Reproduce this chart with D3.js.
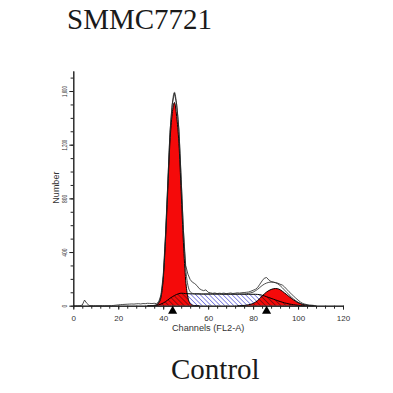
<!DOCTYPE html>
<html>
<head>
<meta charset="utf-8">
<script src="https://cdn.jsdelivr.net/npm/d3@7"></script>
<style>
  body { margin: 0; background: #fff; }
  svg { display: block; }
</style>
</head>
<body>
<div id="vis"></div>
<script>
const FRAME_WIDTH = 393;
const FRAME_HEIGHT = 393;

// every array is indexed by channel number, 0 .. 110
const CHANNELS = d3.range(0, 111);

// raw histogram (counts per channel)
const COUNTS = [
  0, 0, 0, 0, 5, 42, 18, 2, 0, 0,            // 0-9
  0, 0, 0, 0, 0, 0, 0, 0, 2, 4,              // 10-19
  6, 8, 9, 10, 11, 12, 13, 12, 14, 15,       // 20-29
  13, 16, 15, 18, 17, 16, 18, 15, 30, 80,    // 30-39
  220, 520, 900, 1290, 1500, 1585, 1500, 1310, 940, 560, // 40-49
  300, 235, 195, 175, 165, 150, 128, 118, 112, 118,      // 50-59
  100, 96, 92, 95, 90, 93, 91, 94, 90, 92,   // 60-69
  95, 91, 93, 96, 94, 97, 98, 100, 102, 108, // 70-79
  115, 122, 135, 160, 185, 205, 210, 192, 180, 176,      // 80-89
  172, 168, 160, 154, 140, 122, 104, 88, 72, 56,         // 90-99
  42, 28, 18, 12, 8, 5, 4, 2, 0, 0, 0        // 100-110
];

// G1 peak of the fit
const G1_FIT = [
  0, 0, 0, 0, 0, 0, 0, 0, 0, 0,
  0, 0, 0, 0, 0, 0, 0, 0, 0, 0,
  0, 0, 0, 0, 0, 0, 0, 0, 0, 0,
  0, 0, 0, 0, 0, 1, 2, 6, 20, 62,
  195, 480, 850, 1220, 1430, 1515, 1410, 1210, 850, 470,
  190, 62, 16, 4, 1, 0, 0, 0, 0, 0,
  0, 0, 0, 0, 0, 0, 0, 0, 0, 0,
  0, 0, 0, 0, 0, 0, 0, 0, 0, 0,
  0, 0, 0, 0, 0, 0, 0, 0, 0, 0,
  0, 0, 0, 0, 0, 0, 0, 0, 0, 0,
  0, 0, 0, 0, 0, 0, 0, 0, 0, 0, 0
];

// S phase of the fit
const S_FIT = [
  0, 0, 0, 0, 0, 0, 0, 0, 0, 0,
  0, 0, 0, 0, 0, 0, 0, 0, 0, 0,
  0, 0, 0, 0, 0, 0, 0, 0, 0, 0,
  0, 0, 0, 0, 0, 0, 0, 2, 6, 12,
  20, 30, 42, 55, 66, 76, 84, 90, 93, 92,
  90, 89, 89, 88, 88, 88, 88, 87, 87, 87,
  87, 87, 87, 87, 87, 87, 86, 86, 86, 86,
  86, 86, 86, 86, 86, 86, 85, 85, 85, 85,
  85, 85, 84, 82, 78, 73, 67, 61, 55, 49,
  43, 37, 31, 26, 21, 17, 13, 10, 7, 5,
  3, 1, 0, 0, 0, 0, 0, 0, 0, 0, 0
];

// G2 peak of the fit
const G2_FIT = [
  0, 0, 0, 0, 0, 0, 0, 0, 0, 0,
  0, 0, 0, 0, 0, 0, 0, 0, 0, 0,
  0, 0, 0, 0, 0, 0, 0, 0, 0, 0,
  0, 0, 0, 0, 0, 0, 0, 0, 0, 0,
  0, 0, 0, 0, 0, 0, 0, 0, 0, 0,
  0, 0, 0, 0, 0, 0, 0, 0, 0, 0,
  0, 0, 0, 0, 0, 0, 0, 0, 0, 0,
  0, 0, 0, 0, 0, 1, 2, 4, 7, 11,
  16, 26, 38, 54, 72, 88, 102, 113, 121, 126,
  128, 126, 119, 108, 95, 82, 68, 55, 43, 32,
  23, 16, 10, 6, 3, 1, 0, 0, 0, 0, 0
];

const X_TICKS = [0, 20, 40, 60, 80, 100, 120];
const X_MINOR = d3.range(0, 121, 4);
const Y_TICKS = [0, 400, 800, 1200, 1600];
const Y_MINOR = d3.range(0, 1701, 100);
const MARKERS = [44.2, 86];  // G1 / G2 means

const FONT = "'Liberation Sans', Arial, sans-serif";
const SERIF = "'Liberation Serif', 'Times New Roman', serif";

const FRAME = d3.select("#vis")
  .append("svg")
    .attr("width", FRAME_WIDTH)
    .attr("height", FRAME_HEIGHT);

const X_SCALE = d3.scaleLinear().domain([0, 120]).range([73.3, 343]);
const Y_SCALE = d3.scaleLinear().domain([0, 1750]).range([305.7, 70.9]);

// hatch patterns for the S phase
const defs = FRAME.append("defs");
function hatch(id, color, gap, width) {
  defs.append("pattern")
      .attr("id", id)
      .attr("patternUnits", "userSpaceOnUse")
      .attr("width", gap).attr("height", gap)
      .attr("patternTransform", "rotate(-45)")
    .append("line")
      .attr("x1", 0).attr("y1", 0).attr("x2", 0).attr("y2", gap)
      .attr("stroke", color).attr("stroke-width", width);
}
hatch("blueHatch", "#2323c8", 3.2, 1);
hatch("blackHatch", "#111", 3.6, 0.9);

const area = (arr) => d3.area()
  .x(c => X_SCALE(c))
  .y0(Y_SCALE(0))
  .y1(c => Y_SCALE(arr[c]))
  .curve(d3.curveMonotoneX);
const line = (arr, curve) => d3.line()
  .x(c => X_SCALE(c))
  .y(c => Y_SCALE(arr[c]))
  .curve(curve);

const g1Chan = CHANNELS.filter(c => c >= 33 && c <= 56);
const sChan = CHANNELS.filter(c => c >= 35 && c <= 103);
const g2Chan = CHANNELS.filter(c => c >= 73 && c <= 107);

// clip for the part of S that lies over the red peaks
const clip = defs.append("clipPath").attr("id", "peaks");
clip.append("path").attr("d", area(G1_FIT)(g1Chan));
clip.append("path").attr("d", area(G2_FIT)(g2Chan));

// S phase, blue hatch
FRAME.append("path")
  .attr("d", area(S_FIT)(sChan))
  .attr("fill", "url(#blueHatch)");

// G1 and G2 peaks
FRAME.append("path")
  .attr("d", area(G1_FIT)(g1Chan))
  .attr("fill", "#f50a0a");
FRAME.append("path")
  .attr("d", area(G2_FIT)(g2Chan))
  .attr("fill", "#f50a0a");

// S over the peaks, black hatch
FRAME.append("path")
  .attr("d", area(S_FIT)(sChan))
  .attr("fill", "url(#blackHatch)")
  .attr("clip-path", "url(#peaks)");

// component outlines
[[G1_FIT, g1Chan], [G2_FIT, g2Chan], [S_FIT, sChan]].forEach(([arr, ch]) => {
  FRAME.append("path")
    .attr("d", line(arr, d3.curveMonotoneX)(ch))
    .attr("fill", "none")
    .attr("stroke", "#000")
    .attr("stroke-width", 1);
});

// sum of the fit
const FIT_SUM = CHANNELS.map(c => G1_FIT[c] + S_FIT[c] + G2_FIT[c]);
FRAME.append("path")
  .attr("d", line(FIT_SUM, d3.curveMonotoneX)(CHANNELS.filter(c => c >= 33 && c <= 107)))
  .attr("fill", "none")
  .attr("stroke", "#222")
  .attr("stroke-width", 0.8);

// raw data
FRAME.append("path")
  .attr("d", line(COUNTS, d3.curveLinear)(CHANNELS.filter(c => c <= 108)))
  .attr("fill", "none")
  .attr("stroke", "#222")
  .attr("stroke-width", 0.8);

// x axis
FRAME.append("g")
  .attr("transform", "translate(0," + Y_SCALE(0) + ")")
  .call(d3.axisBottom(X_SCALE).tickValues(X_MINOR).tickSize(3).tickSizeOuter(0).tickFormat(""));
FRAME.append("g")
  .attr("transform", "translate(0," + Y_SCALE(0) + ")")
  .call(d3.axisBottom(X_SCALE).tickValues(X_TICKS).tickSize(4).tickSizeOuter(0).tickPadding(5.5))
  .attr("font-family", FONT)
  .attr("font-size", 8)
  .call(g => g.selectAll("text").attr("fill", "#333"));

// y axis
FRAME.append("g")
  .attr("transform", "translate(" + X_SCALE(0) + ",0)")
  .call(d3.axisLeft(Y_SCALE).tickValues(Y_MINOR).tickSize(2.7).tickSizeOuter(0).tickFormat(""));
FRAME.append("g")
  .attr("transform", "translate(" + X_SCALE(0) + ",0)")
  .call(d3.axisLeft(Y_SCALE).tickValues(Y_TICKS).tickSize(4).tickSizeOuter(0))
  .attr("font-family", FONT)
  .attr("font-size", 8)
  .call(g => g.selectAll("text")
    .attr("x", null).attr("dy", null)
    .attr("text-anchor", "middle")
    .attr("transform", "translate(-6.6,0) rotate(-90)")
    .attr("textLength", d => String(d).length * 2.7)
    .attr("lengthAdjust", "spacingAndGlyphs")
    .attr("fill", "#333"));

FRAME.selectAll(".domain").attr("stroke", "#222");
FRAME.selectAll(".tick line").attr("stroke", "#222");

// peak markers
FRAME.selectAll(".marker")
  .data(MARKERS)
  .enter()
  .append("path")
    .attr("d", d3.symbol(d3.symbolTriangle).size(36))
    .attr("transform", d => "translate(" + X_SCALE(d) + ",311)")
    .attr("fill", "#000");

// axis titles
FRAME.append("text")
  .attr("x", X_SCALE(60)).attr("y", 331)
  .attr("text-anchor", "middle")
  .attr("font-family", FONT).attr("font-size", 9.2)
  .attr("fill", "#333")
  .text("Channels (FL2-A)");
FRAME.append("text")
  .attr("transform", "translate(59," + Y_SCALE(880) + ") rotate(-90)")
  .attr("text-anchor", "middle")
  .attr("font-family", FONT).attr("font-size", 9)
  .attr("fill", "#333")
  .text("Number");

// titles
FRAME.append("text")
  .attr("x", 67).attr("y", 29)
  .attr("font-family", SERIF).attr("font-size", 29)
  .attr("fill", "#1a1a1a")
  .text("SMMC7721");
FRAME.append("text")
  .attr("x", 171).attr("y", 379)
  .attr("font-family", SERIF).attr("font-size", 29)
  .attr("fill", "#1a1a1a")
  .text("Control");
</script>
</body>
</html>
